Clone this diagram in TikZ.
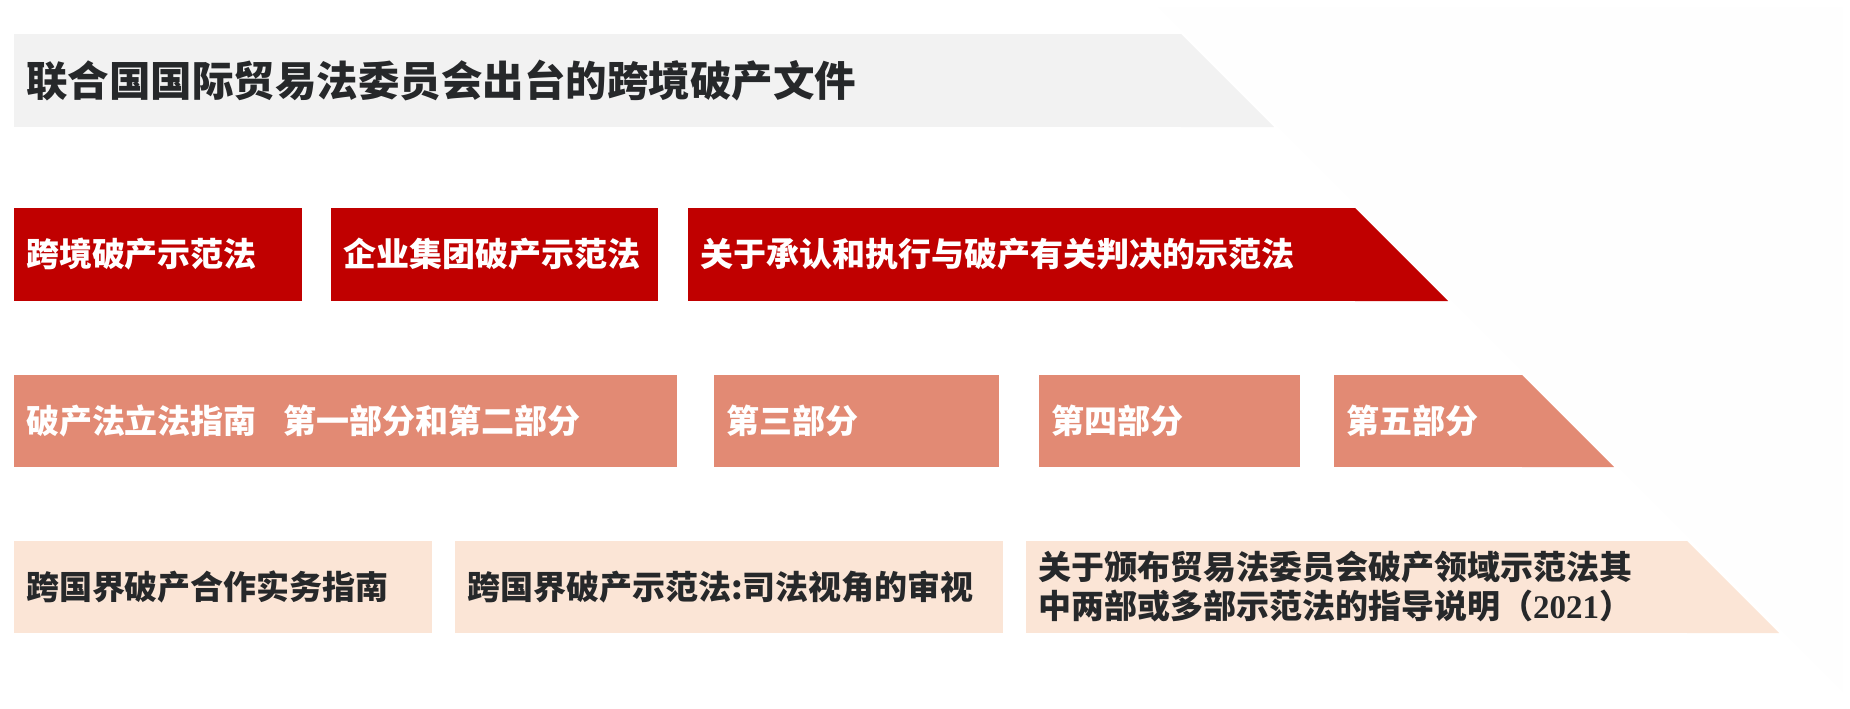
\documentclass[tikz,border=0pt]{standalone}
\usepackage{fontspec}
\newfontfamily\cjk{Noto Sans CJK SC}
\newfontfamily\tnr{Liberation Serif}

\definecolor{faintwhite}{RGB}{254,254,254}
\definecolor{titlegray}{RGB}{242,242,242}
\definecolor{lawred}{RGB}{192,0,0}
\definecolor{guidesalmon}{RGB}{226,138,116}
\definecolor{notepeach}{RGB}{251,229,214}
\definecolor{inkdark}{RGB}{38,40,42}

\begin{document}
\begin{tikzpicture}[x=1pt, y=-1pt]
   
   \tikzstyle{lvl}=[rectangle, anchor=north west, inner xsep=12pt, inner ysep=0pt, outer sep=0pt, minimum height=93pt, align=left, font=\cjk\bfseries\fontsize{33}{39}\selectfont]
   \tikzstyle{docs}=[lvl, fill=titlegray, text=inkdark, font=\cjk\bfseries\fontsize{41.5}{48}\selectfont]
   \tikzstyle{law}=[lvl, fill=lawred, text=white]
   \tikzstyle{guide}=[lvl, fill=guidesalmon, text=white, minimum height=92pt]
   \tikzstyle{note}=[lvl, fill=notepeach, text=inkdark, minimum height=92pt]
   
   \useasboundingbox (0,0) rectangle (1850,709);
   \fill[faintwhite] (1157,7) -- (1843,7) -- (1843,693) -- cycle;
   
   % top band
   \node[docs, text width=1143pt] (uncitral) at (14,34) {联合国国际贸易法委员会出台的跨境破产文件};
   \fill[titlegray] (uncitral.north east) -- (uncitral.south east) -- ++(93,0) -- cycle;
   
   % model laws
   \node[law, text width=264pt] (mlcbi) at (14,208)  {跨境破产示范法};
   \node[law, text width=303pt] (mleg)  at (331,208) {企业集团破产示范法};
   \node[law, text width=643pt] (mlirj) at (688,208) {关于承认和执行与破产有关判决的示范法};
   \fill[lawred] (mlirj.north east) -- (mlirj.south east) -- ++(93,0) -- cycle;
   
   % legislative guide
   \node[guide, text width=639pt] (guide12) at (14,375)   {破产法立法指南\hspace{27pt}第一部分和第二部分};
   \node[guide, text width=261pt] (part3)   at (714,375)  {第三部分};
   \node[guide, text width=237pt] (part4)   at (1039,375) {第四部分};
   \node[guide, text width=164pt] (part5)   at (1334,375) {第五部分};
   \fill[guidesalmon] (part5.north east) -- (part5.south east) -- ++(92,0) -- cycle;
   
   % texts for practice
   \node[note, text width=394pt] (practice) at (14,541)   {跨国界破产合作实务指南};
   \node[note, text width=524pt] (judicial) at (455,541)  {跨国界破产示范法:司法视角的审视};
   \node[note, text width=637pt] (guidance) at (1026,541) {关于颁布贸易法委员会破产领域示范法其\\中两部或多部示范法的指导说明（{\tnr\bfseries 2021}）};
   \fill[notepeach] (guidance.north east) -- (guidance.south east) -- ++(92,0) -- cycle;
   
\end{tikzpicture}
\end{document}
